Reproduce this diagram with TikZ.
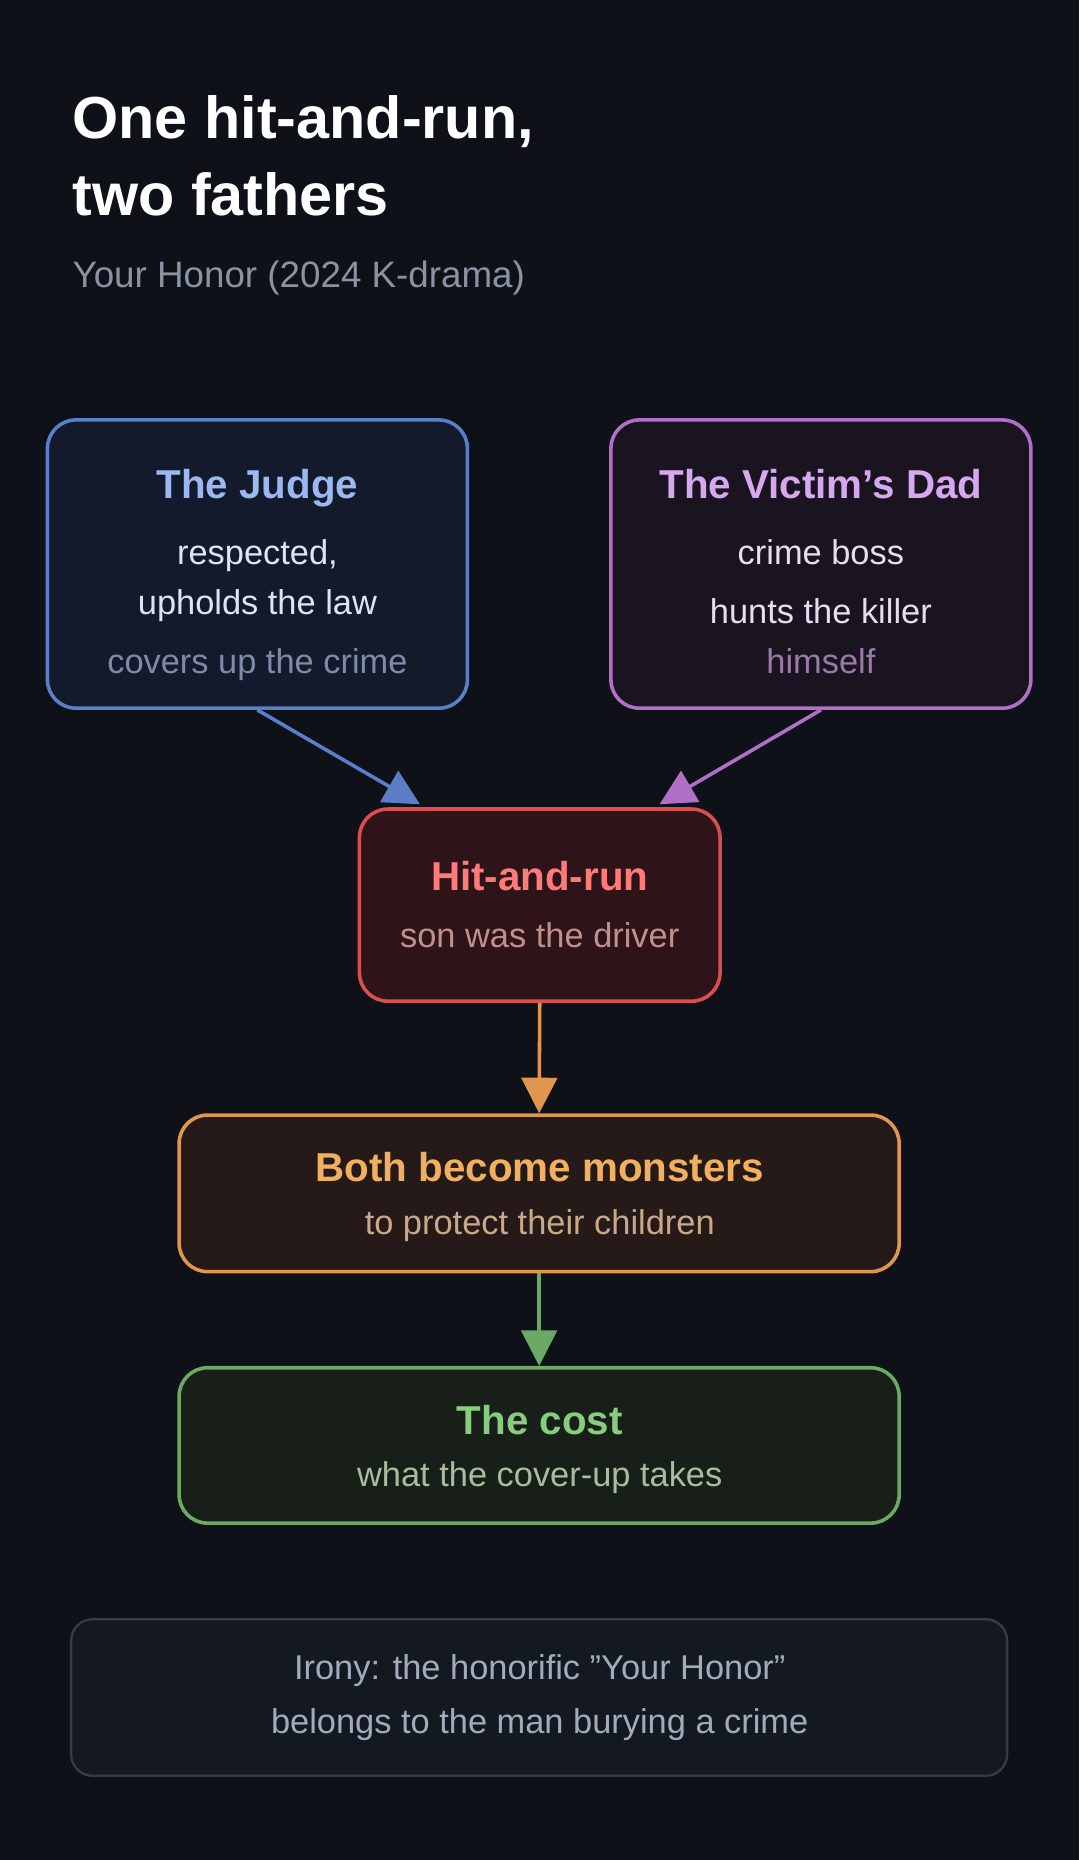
\documentclass[tikz,border=0pt]{standalone}
\usepackage{fontspec}
\setmainfont{Liberation Sans}
\usetikzlibrary{arrows.meta}
\definecolor{bg}{HTML}{0E1117}
\definecolor{jb}{HTML}{5B7FC7}\definecolor{jf}{HTML}{131A2B}
\definecolor{vb}{HTML}{B070C8}\definecolor{vf}{HTML}{1A1420}
\definecolor{hb}{HTML}{D94F4F}\definecolor{hf}{HTML}{2E1418}
\definecolor{bb}{HTML}{E0964C}\definecolor{bf}{HTML}{261A18}
\definecolor{cb}{HTML}{6AAA64}\definecolor{cf}{HTML}{181E18}
\definecolor{ib}{HTML}{353C48}\definecolor{iff}{HTML}{131821}
\definecolor{jt}{HTML}{9DB8F0}\definecolor{jx}{HTML}{DDE4F4}\definecolor{jg}{HTML}{7F8AA6}
\definecolor{vt}{HTML}{D6A8F0}\definecolor{vx}{HTML}{E8DDF0}\definecolor{vg}{HTML}{9A7AA8}
\definecolor{ht}{HTML}{FF7B7B}\definecolor{hx}{HTML}{C09090}
\definecolor{bt}{HTML}{F0B060}\definecolor{bx}{HTML}{C8A888}
\definecolor{ct}{HTML}{88CC80}\definecolor{cx}{HTML}{A8BCA0}
\definecolor{ix}{HTML}{A0ACBC}\definecolor{sub}{HTML}{8A93A3}
\begin{document}
\begin{tikzpicture}[x=1pt,y=-1pt,
 box/.style={draw, line width=3pt, rounded corners=24pt, inner sep=0pt},
 tt/.style={anchor=base, font=\fontsize{34}{40}\selectfont\bfseries},
 tx/.style={anchor=base, font=\fontsize{29}{34}\selectfont},
 arr/.style={line width=3pt, -{Triangle[length=30pt,width=30pt]}}]
\fill[bg] (0,0) rectangle (910,1568);
\useasboundingbox (0,0) rectangle (910,1568);
\node[anchor=base west, inner sep=0pt, white, font=\fontsize{50}{60}\selectfont\bfseries] (t1) at (61,117) {One hit-and-run,};
\node[anchor=base west, inner sep=0pt, white, font=\fontsize{50}{60}\selectfont\bfseries] (t2) at (61,182) {two fathers};
\node[anchor=base west, inner sep=0pt, text=sub, font=\fontsize{31}{36}\selectfont] (st) at (61,242) {Your Honor (2024 K-drama)};

\node[box, draw=jb, fill=jf, minimum width=354pt, minimum height=243pt] (judge) at (217,475.5) {};
\node[box, draw=vb, fill=vf, minimum width=354pt, minimum height=243pt] (victim) at (692,475.5) {};
\node[box, draw=hb, fill=hf, minimum width=304pt, minimum height=162pt] (hit) at (455,763) {};
\node[box, draw=bb, fill=bf, minimum width=607pt, minimum height=132pt] (both) at (454.5,1006) {};
\node[box, draw=cb, fill=cf, minimum width=607pt, minimum height=131pt] (cost) at (454.5,1218.5) {};
\node[draw=ib, line width=2pt, rounded corners=18pt, fill=iff, minimum width=789pt, minimum height=132pt] (irony) at (454.5,1431) {};

\node[tt, text=jt] (j1) at (217,420) {The Judge};
\node[tx, text=jx] (j2) at (217,476) {respected,};
\node[tx, text=jx] (j3) at (217,518) {upholds the law};
\node[tx, text=jg] (j4) at (217,568) {covers up the crime};

\node[tt, text=vt] (v1) at (692,420) {The Victim's Dad};
\node[tx, text=vx] (v2) at (692,476) {crime boss};
\node[tx, text=vx] (v3) at (692,526) {hunts the killer};
\node[tx, text=vg] (v4) at (692,568) {himself};

\node[tt, text=ht] (h1) at (455,751) {Hit-and-run};
\node[tx, text=hx] (h2) at (455,799) {son was the driver};

\node[tt, text=bt] (b1) at (455,996) {Both become monsters};
\node[tx, text=bx] (b2) at (455,1041) {to protect their children};

\node[tt, text=ct] (c1) at (455,1209) {The cost};
\node[tx, text=cx] (c2) at (455,1253) {what the cover-up takes};

\node[tx, text=ix] (i1) at (455,1416) {Irony: the honorific "Your Honor"};
\node[tx, text=ix] (i2) at (455,1461) {belongs to the man burying a crime};

\coordinate (hl) at (354,678);
\coordinate (hr) at (556,678);
\draw[arr, draw=jb, fill=jb] (judge.south) -- (hl);
\draw[arr, draw=vb, fill=vb] (victim.south) -- (hr);
\draw[arr, draw=bb, fill=bb] (hit.south) -- (both.north);
\draw[arr, draw=cb, fill=cb] (both.south) -- (cost.north);
\end{tikzpicture}
\end{document}
